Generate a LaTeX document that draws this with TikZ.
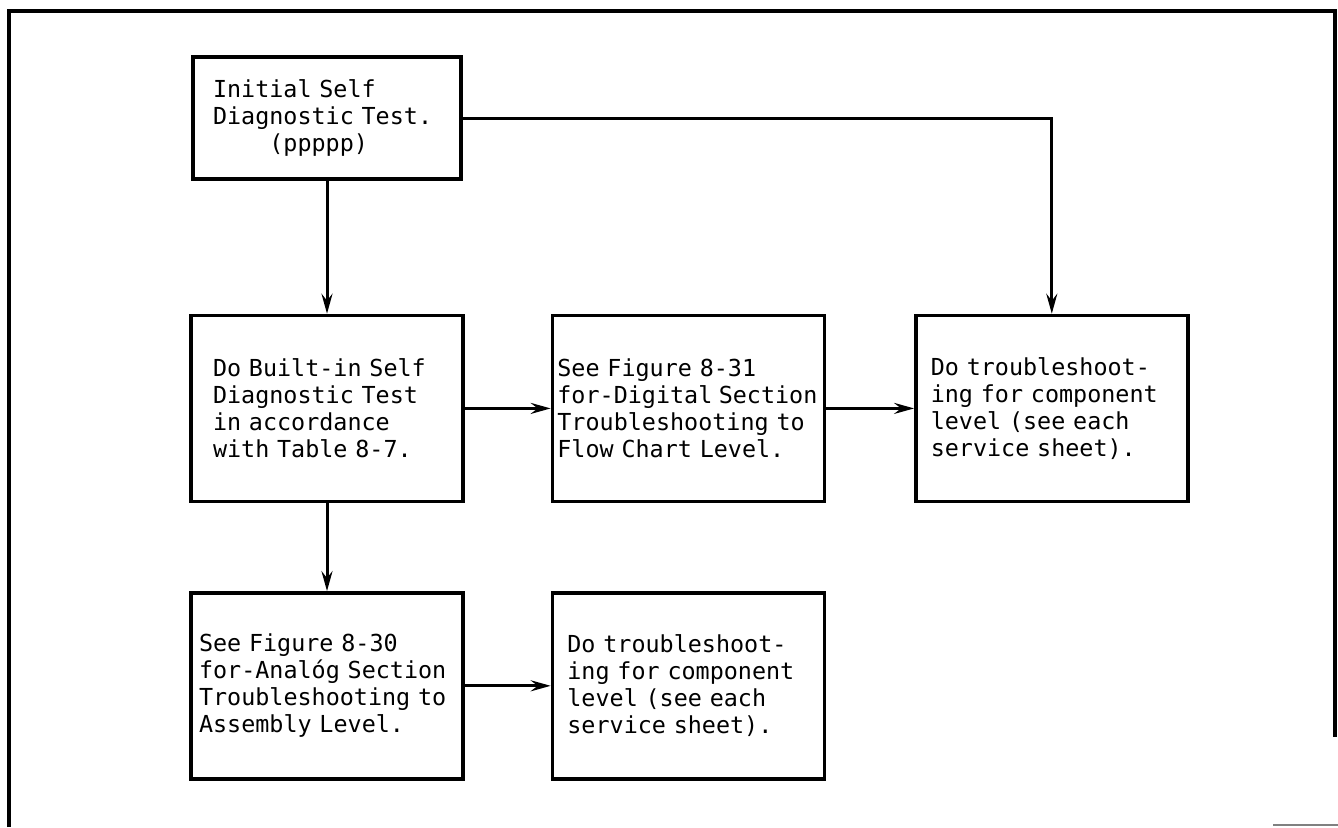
\documentclass[tikz,border=0pt]{standalone}
\usepackage{fontspec}
\usepackage{tikz}
\usetikzlibrary{arrows.meta,positioning}
\newfontfamily\chartfont{DejaVu Sans Mono}

\begin{document}
\begin{tikzpicture}[x=0.5pt,y=-0.5pt,
  box/.style={draw,line width=1.7pt,inner sep=0pt,minimum width=136pt,minimum height=93pt,
              font=\chartfont\fontsize{11.7}{13.5}\selectfont,align=left},
  arr/.style={-{Stealth[length=10pt,width=5.5pt,inset=3.5pt]},line width=1.5pt},
  frame/.style={line width=1.7pt}
]
  \useasboundingbox (0,0) rectangle (1338,827);

  \node[box,minimum width=134pt,minimum height=61pt,text width=114pt] at (327,118) (init)
        {Initial Self\\Diagnostic Test.\\\phantom{Diag}(ppppp)};

  \node[box,text width=114pt,below=66.5pt of init] (selftest)
        {Do Built-in Self\\Diagnostic Test\\in accordance\\with Table 8-7.};
  \node[box,text width=131pt,right=43pt of selftest] (digital)
        {See Figure 8-31\\for-Digital\hspace{0.5ex}Section\\Troubleshooting to\\Flow Chart Level.};
  \node[box,text width=121pt,right=44pt of digital] (compdig)
        {Do troubleshoot-\\ing for component\\level (see each\\service sheet).};

  \node[box,text width=128pt,below=44pt of selftest] (analog)
        {See Figure 8-30\\for-Analóg Section\\Troubleshooting to\\Assembly Level.};
  \node[box,text width=121pt,right=43pt of analog] (companl)
        {Do troubleshoot-\\ing for component\\level (see each\\service sheet).};

  \draw[arr] (init)--(selftest); \draw[arr] (init.east) -| (compdig.north);
  \draw[arr] (selftest)--(digital); \draw[arr] (digital)--(compdig);
  \draw[arr] (selftest)--(analog); \draw[arr] (analog)--(companl);

  % page frame
  \draw[frame] (9,827) -- (9,11) -- (1335,11) -- (1335,737);
  \draw[gray,line width=0.8pt] (1273,825) -- (1338,825);
\end{tikzpicture}
\end{document}
